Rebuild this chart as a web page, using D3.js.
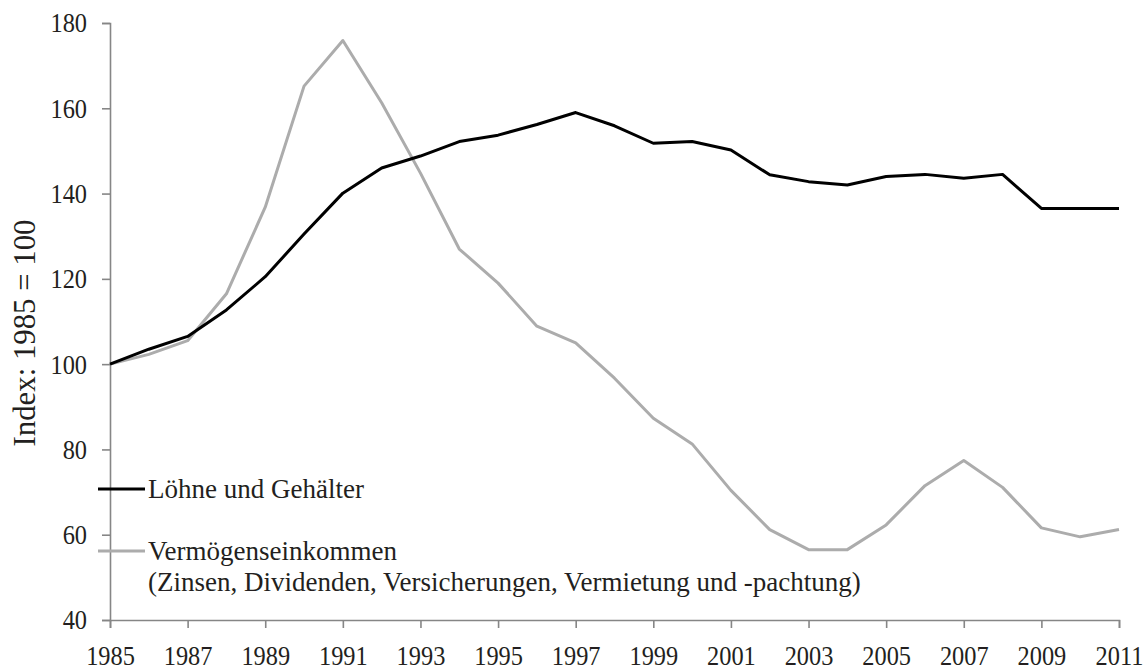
<!DOCTYPE html>
<html>
<head>
<meta charset="utf-8">
<script src="https://cdn.jsdelivr.net/npm/d3@7"></script>
<style>
  body { margin: 0; background: #fff; }
  svg text { font-family: "Liberation Serif", "Times New Roman", serif; fill: #231f20; }
</style>
</head>
<body>
<svg id="chart" width="1145" height="671"></svg>
<script>
// years on the x axis
let years = d3.range(1985, 2012);
// Löhne und Gehälter (index 1985 = 100)
let wages = [100, 103.5, 106.5, 112.7, 120.5, 130.5, 140.1, 146.0, 148.8, 152.2, 153.7, 156.2, 159.0,
  155.9, 151.8, 152.2, 150.2, 144.4, 142.8, 142.0, 144.0, 144.5, 143.6, 144.5, 136.5, 136.5, 136.5];
// Vermögenseinkommen (index 1985 = 100)
let capital = [100, 102.3, 105.5, 116.5, 136.8, 165.2, 175.9, 161.3, 144.8, 127.0, 119.0, 108.9, 105.0,
  96.7, 87.3, 81.3, 70.4, 61.2, 56.5, 56.5, 62.3, 71.5, 77.4, 71.1, 61.6, 59.5, 61.2];
let xTicks = d3.range(1985, 2012, 2);
let yTicks = [40, 60, 80, 100, 120, 140, 160, 180];
let seriesNames = ["Löhne und Gehälter", "Vermögenseinkommen"];
let seriesNote = "(Zinsen, Dividenden, Versicherungen, Vermietung und -pachtung)";
let yTitle = "Index: 1985 = 100";

let svg = d3.select("#chart");
let mLeft = 110, mRight = 1119, mTop = 23, mBottom = 620;
let sx = 0.87; // tick labels look condensed

let xScale = d3.scaleLinear().domain([1985, 2011]).range([mLeft, mRight]);
let yScale = d3.scaleLinear().domain([40, 180]).range([mBottom, mTop]);

// axes
let xAxis = d3.axisBottom(xScale).tickValues(xTicks).tickFormat(d3.format("d")).tickSize(8).tickPadding(17);
let gx = svg.append("g").attr("transform", "translate(0," + mBottom + ")").call(xAxis);
let yAxis = d3.axisLeft(yScale).tickValues(yTicks).tickSize(8).tickPadding(15);
let gy = svg.append("g").attr("transform", "translate(" + mLeft + ",0)").call(yAxis);

[gx, gy].forEach(function (g) {
  g.selectAll("path.domain").attr("stroke", "#868686").attr("stroke-width", 1.6);
  g.selectAll(".tick line").attr("stroke", "#868686").attr("stroke-width", 1.6);
  g.selectAll(".tick text")
    .attr("fill", "#231f20")
    .style("font-size", "28px")
    .style("font-family", "'Liberation Serif', 'Times New Roman', serif");
});
gx.selectAll(".tick text").attr("transform", "scale(" + sx + ",1)");
gy.selectAll(".tick text")
  .attr("x", -23 / sx)
  .attr("transform", "scale(" + sx + ",1)");

// y title
svg.append("text")
  .attr("transform", "translate(35,333) rotate(-90)")
  .attr("text-anchor", "middle")
  .attr("textLength", 227)
  .attr("lengthAdjust", "spacingAndGlyphs")
  .style("font-size", "32px")
  .text(yTitle);

// lines
let line = d3.line()
  .x(function (d, i) { return xScale(years[i]); })
  .y(function (d) { return yScale(d); });

svg.append("path").datum(capital)
  .attr("fill", "none").attr("stroke", "#acacac").attr("stroke-width", 3)
  .attr("stroke-linejoin", "round")
  .attr("d", line);
svg.append("path").datum(wages)
  .attr("fill", "none").attr("stroke", "#000").attr("stroke-width", 3)
  .attr("stroke-linejoin", "round")
  .attr("d", line);

// legend
let legend = [
  { name: seriesNames[0], color: "#000", y: 489 },
  { name: seriesNames[1], color: "#acacac", y: 551 }
];
legend.forEach(function (l) {
  svg.append("line")
    .attr("x1", 98).attr("x2", 145)
    .attr("y1", l.y).attr("y2", l.y)
    .attr("stroke", l.color).attr("stroke-width", 3);
  svg.append("text")
    .attr("x", 148).attr("y", l.y + 9)
    .style("font-size", "27px")
    .text(l.name);
});
svg.append("text")
  .attr("x", 148).attr("y", 551 + 9 + 31)
  .style("font-size", "27px")
  .text(seriesNote);
</script>
</body>
</html>
